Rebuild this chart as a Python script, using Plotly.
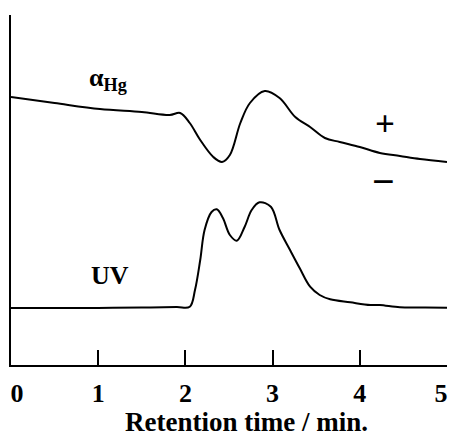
import plotly.graph_objects as go

# Retention time (min) and detector signals (arbitrary units)
t_hg = [0.0, 0.5, 1.02, 1.5, 1.82, 1.94, 2.05, 2.17, 2.32, 2.42, 2.51, 2.63, 2.74,
        2.91, 3.08, 3.26, 3.43, 3.60, 3.77, 4.0, 4.23, 4.46, 4.69, 5.0]
alpha_hg = [268, 262, 256, 253, 250, 252, 242, 225, 208, 203, 210, 242, 262,
            274, 267, 248, 238, 227, 223, 218, 212, 209, 206, 203]

t_uv = [0.0, 0.5, 1.0, 1.5, 1.9, 2.05, 2.11, 2.17, 2.22, 2.30, 2.36, 2.43, 2.51,
        2.59, 2.68, 2.76, 2.85, 2.98, 3.08, 3.20, 3.31, 3.43, 3.54, 3.66, 3.89,
        4.12, 4.23, 4.46, 4.75, 5.0]
uv = [57, 57, 57, 57.5, 58, 58.3, 75, 105, 135, 153, 155.7, 147, 130,
      124.3, 138.3, 155, 162.7, 158.3, 135, 115, 97, 78.3, 70, 65.7, 62.7,
      60, 60, 57.7, 57.5, 57.3]

x_labels = ["0", "1", "2", "3", "4", "5"]
x_label_vals = [0.07, 1.0, 2.0, 3.0, 4.0, 4.93]
tick_vals = [1, 2, 3, 4]

serif = "Liberation Serif, Times New Roman, Times, serif"

fig = go.Figure()
fig.add_trace(go.Scatter(x=t_hg, y=alpha_hg, mode="lines",
                         line=dict(color="black", width=2, shape="spline", smoothing=1.0),
                         showlegend=False))
fig.add_trace(go.Scatter(x=t_uv, y=uv, mode="lines",
                         line=dict(color="black", width=2, shape="spline", smoothing=1.0),
                         showlegend=False))
fig.add_trace(go.Scatter(x=[0], y=[0], xaxis="x2", mode="markers",
                         marker=dict(opacity=0), showlegend=False, hoverinfo="skip"))

fig.update_layout(
    width=452, height=441,
    margin=dict(l=11, r=5, t=15, b=76),
    paper_bgcolor="white", plot_bgcolor="white",
    xaxis=dict(range=[0, 5], tickvals=tick_vals, ticks="inside", ticklen=15,
               tickwidth=2, tickcolor="black", showticklabels=False,
               showline=True, linecolor="black", linewidth=2, showgrid=False,
               zeroline=False, mirror=False),
    xaxis2=dict(range=[0, 5], overlaying="x", side="bottom", tickvals=x_label_vals,
                ticktext=["<b>%s</b>" % s for s in x_labels], ticks="",
                showline=False, showgrid=False, zeroline=False,
                ticklabelstandoff=10, ticklabeloverflow="allow",
                tickfont=dict(family=serif, size=26, color="black")),
    yaxis=dict(range=[0, 350], showticklabels=False, ticks="", showline=True,
               linecolor="black", linewidth=2, showgrid=False, zeroline=False),
    annotations=[
        dict(x=0.54, y=-0.163, xref="paper", yref="paper", showarrow=False,
             xanchor="center", yanchor="middle",
             text="<b>Retention time / min.</b>",
             font=dict(family=serif, size=27, color="black")),
        dict(x=1.11, y=286, xref="x", yref="y", showarrow=False,
             text="<b>α<sub>Hg</sub></b>",
             font=dict(family=serif, size=26, color="black")),
        dict(x=1.13, y=90, xref="x", yref="y", showarrow=False, text="<b>UV</b>",
             font=dict(family=serif, size=26, color="black")),
        dict(x=4.29, y=241, xref="x", yref="y", showarrow=False, text="<b>+</b>",
             font=dict(family=serif, size=35, color="black")),
        dict(x=4.27, y=184, xref="x", yref="y", showarrow=False, text="<b>−</b>",
             font=dict(family=serif, size=40, color="black")),
    ],
)

fig.write_html("out.html")
